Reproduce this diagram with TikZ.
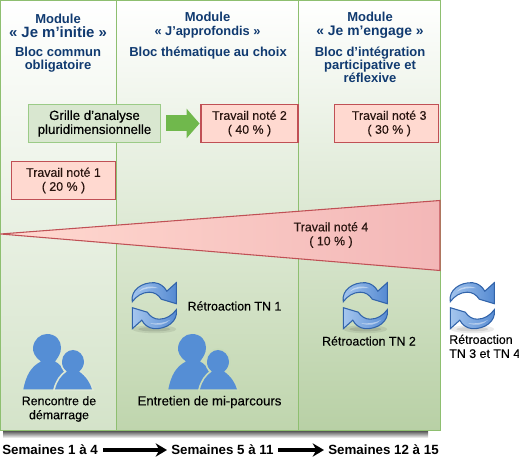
\documentclass[tikz,border=0pt]{standalone}
\usepackage{xcolor}
\usepackage{fontspec}
\setmainfont[FakeBold=0.25]{Liberation Sans}
\newfontfamily\headfont{Liberation Sans}
\usepackage{tikz}
\usetikzlibrary{arrows.meta, positioning, calc}
\definecolor{panelline}{RGB}{142,191,112}
\definecolor{panelbotA}{RGB}{212,227,201}
\definecolor{panelbotB}{RGB}{191,213,173}
\definecolor{panelbotC}{RGB}{184,208,165}
\definecolor{headblue}{RGB}{16,58,112}
\definecolor{tnred}{RGB}{192,80,85}
\definecolor{tnfill}{RGB}{255,217,208}
\definecolor{tnfillB}{RGB}{243,183,183}
\definecolor{tntext}{RGB}{40,20,15}
\definecolor{gridfill}{RGB}{217,231,208}
\definecolor{gridline}{RGB}{155,203,135}
\definecolor{bigarrowgreen}{RGB}{112,184,76}
\definecolor{personblue}{RGB}{85,142,213}
\definecolor{haloA}{RGB}{222,232,212}
\definecolor{haloB}{RGB}{200,219,184}
\definecolor{iconline}{RGB}{50,100,170}
\definecolor{iconlight}{RGB}{165,198,238}
\definecolor{icondark}{RGB}{85,138,210}
\tikzset{
  panel/.style={rectangle, draw=panelline, line width=1pt, top color=white,
    inner sep=0pt, outer sep=0pt, minimum height=322.5pt},
  modtext/.style={align=center, text=headblue, inner sep=0pt,
    font=\fontsize{9.75}{10.5}\selectfont\headfont\bfseries},
  bloctext/.style={align=center, text=headblue, inner sep=0pt, anchor=north,
    font=\fontsize{9.75}{9.75}\selectfont\headfont\bfseries},
  tnbox/.style={rectangle, draw=tnred, fill=tnfill, line width=0.8pt, align=center,
    minimum width=78pt, minimum height=28.5pt, inner sep=0pt, text=tntext,
    font=\fontsize{9.3}{10.5}\selectfont},
  gridbox/.style={rectangle, draw=gridline, fill=gridfill, line width=0.8pt, align=center,
    minimum width=99pt, minimum height=28.5pt, inner sep=0pt,
    font=\fontsize{9.95}{10.5}\selectfont},
  note/.style={align=center, inner sep=0pt, font=\fontsize{9.3}{10.5}\selectfont},
  week/.style={inner sep=0pt, font=\fontsize{10}{10.5}\selectfont\headfont\bfseries},
  weekarrow/.style={-{Stealth[length=8.5pt, width=10pt]}, line width=2.6pt, black,
    shorten <=3.5pt, shorten >=3pt},
  people/.pic={
    \fill[personblue] (-23.7,0) .. controls (-21,-14) and (-16,-23) .. (-6,-28)
      .. controls (-12,-32) and (-14.5,-38) .. (-14,-42)
      .. controls (-13,-50) and (-7,-55.5) .. (0,-55.5)
      .. controls (9,-55.5) and (14,-49) .. (14,-42)
      .. controls (14,-36) and (11,-32) .. (8,-28)
      .. controls (16,-24) and (22,-14) .. (12,0) -- cycle;
    \path[preaction={pic actions, line width=2.6pt}, fill=personblue]
      (8,0) .. controls (10,-8) and (14,-14) .. (20,-18)
      .. controls (16,-21) and (15,-24) .. (15,-28)
      .. controls (15,-35) and (21,-39.5) .. (26,-39.5)
      .. controls (32,-39.5) and (37,-34) .. (37,-28)
      .. controls (37,-24) and (35,-20) .. (32,-18)
      .. controls (39,-13) and (43,-7) .. (45,0) -- cycle;
  },
  refresh/.pic={
    \fill[black, opacity=0.08] (0,23.5) ellipse (22 and 4);
    \fill[black, opacity=0.10] (0,23.5) ellipse (16 and 2.2);
    \foreach \ang in {0,180} {
      \begin{scope}[rotate=\ang]
        \draw[draw=iconline, line width=0.8pt, left color=iconlight, right color=icondark]
          (-22,-4) .. controls (-24,-16) and (-12,-23.5) .. (0,-23)
          .. controls (6,-22.5) and (10,-19) .. (12.5,-14.5)
          -- (22,-23) -- (22,-2) -- (7,-6.5)
          .. controls (4,-11) and (0,-13.5) .. (-5,-13.5)
          .. controls (-12,-13.5) and (-18,-9.5) .. (-22,-4) -- cycle;
        \fill[white, opacity=0.45] (-16,-14) .. controls (-11,-19.5) and (-3,-20.5) .. (4,-17.5)
          .. controls (-3,-18) and (-10,-17.5) .. (-16,-14) -- cycle;
      \end{scope}
    }
  }
}
\begin{document}
\begin{tikzpicture}[x=0.75pt, y=-0.75pt]
  \useasboundingbox (0,0) rectangle (519,459);
  \shade[top color=black!75, bottom color=white] (3,430) rectangle (428,438);

  \node[panel, bottom color=panelbotA, minimum width=87pt] (col1) at (58.5,215.5) {};
  \node[panel, bottom color=panelbotB, minimum width=136.5pt] (col2) at (207.5,215.5) {};
  \node[panel, bottom color=panelbotC, minimum width=106.5pt] (col3) at (369.5,215.5) {};

  \node[modtext] (mod1) at (58,25.5) {Module\\{\fontsize{11.2}{10.5}\selectfont « Je m’initie »}};
  \node[modtext] (mod2) at (207.5,25.5) {Module\\{\fontsize{9.6}{10.5}\selectfont « J’approfondis »}};
  \node[modtext] (mod3) at (370,25.5) {Module\\{\fontsize{10.4}{10.5}\selectfont « Je m’engage »}};
  \node[bloctext] (bloc1) at (58,46.5) {Bloc commun\\obligatoire};
  \node[bloctext] (bloc2) at (208,46.5) {Bloc thématique au choix};
  \node[bloctext] (bloc3) at (370,46.5) {Bloc d’intégration\\participative et\\réflexive};

  \node[gridbox] (grille) at (94.5,123.5) {Grille d’analyse\\pluridimensionnelle};
  \node[tnbox, minimum width=72.75pt] (tn2) at (249.5,123.5) {Travail noté 2\\( 40 \% )};
  \node[tnbox] (tn3) at (386.5,123.5) {\hspace*{4pt}Travail noté 3\\\hspace*{4pt}( 30 \% )};
  \node[tnbox] (tn1) at (63.5,180.5) {Travail noté 1\\( 20 \% )};
  \draw[-{Triangle[length=9.75pt, width=21.75pt]}, bigarrowgreen, line width=12pt,
    shorten <=4pt, shorten >=0.7pt] (grille) -- (tn2);

  \draw[draw=tnred, line width=0.8pt, left color=tnfill, right color=tnfillB]
    (0.5,234) -- (440,200.5) -- (440,270.5) -- cycle;
  \node[note, text=tntext] (tn4) at (331,235) {Travail noté 4\\( 10 \% )};

  \pic[draw=haloA] at (47,389.5) {people};
  \pic[draw=haloB] at (192,389.5) {people};
  \pic at (154.3,305.7) {refresh};
  \pic at (365.3,305.7) {refresh};
  \pic at (472.3,305.7) {refresh};

  \node[note] (retro1) at (234.5,306) {Rétroaction TN 1};
  \node[note] (retro2) at (369,341) {Rétroaction TN 2};
  \node[note, align=left, anchor=north west] (retro3) at (449,334.5) {Rétroaction\\TN 3 et TN 4};
  \node[note] (start) at (59,409) {Rencontre de\\démarrage};
  \node[note, font=\fontsize{9.85}{10.5}\selectfont] (midway) at (209.5,402) {Entretien de mi-parcours};

  \node[week, anchor=west] (week1) at (2,450) {Semaines 1 à 4};
  \node[week, anchor=west] (week2) at (171,450) {Semaines 5 à 11};
  \node[week, anchor=west] (week3) at (328,450) {Semaines 12 à 15};
  \draw[weekarrow] (week1) -- (week2);
  \draw[weekarrow] (week2) -- (week3);
\end{tikzpicture}
\end{document}
